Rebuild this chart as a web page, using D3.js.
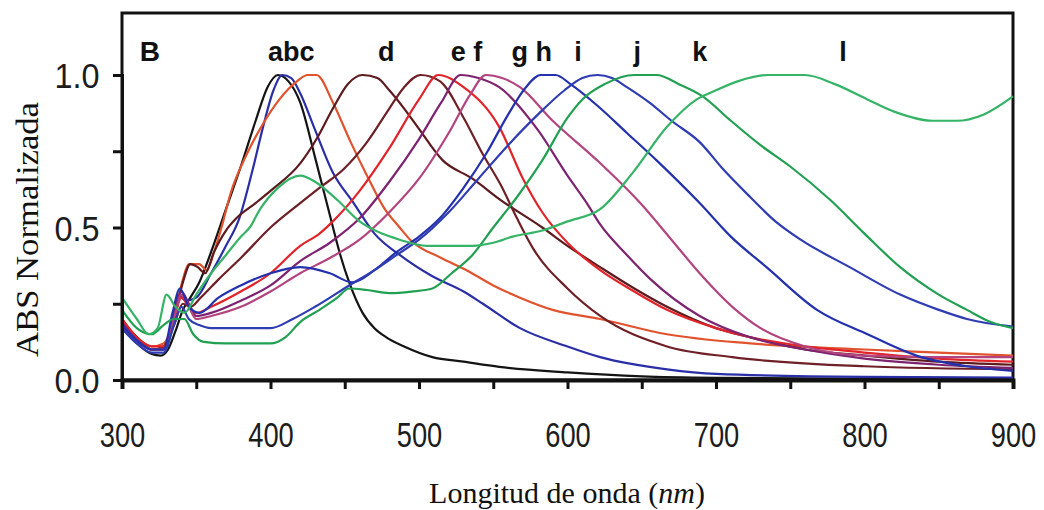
<!DOCTYPE html>
<html lang="es">
<head>
<meta charset="UTF-8">
<title>ABS Normalizada</title>
<script src="https://cdn.jsdelivr.net/npm/d3@7"></script>
<style>
  body { margin: 0; background: #fff; }
  svg { display: block; }
</style>
</head>
<body>
<script>
// spectra: [wavelength nm, normalized absorbance]
const curveA = [[300,0.17],[310,0.12],[320,0.085],[326,0.08],[331,0.1],[336,0.16],[341,0.23],[346,0.27],[352,0.32],[360,0.42],[370,0.56],[380,0.7],[390,0.85],[398,0.96],[405,1.0],[412,0.98],[420,0.91],[430,0.73],[440,0.54],[447,0.41],[453,0.32],[462,0.22],[470,0.17],[478,0.14],[490,0.11],[509,0.075],[530,0.06],[554,0.043],[600,0.025],[650,0.012],[700,0.007],[800,0.004],[900,0.003]];
const curveB = [[300,0.18],[310,0.13],[320,0.1],[327,0.1],[333,0.17],[338,0.28],[343,0.26],[350,0.27],[360,0.35],[370,0.44],[379,0.53],[388,0.69],[395,0.83],[402,0.95],[408,1.0],[414,0.99],[420,0.94],[430,0.82],[442,0.68],[456,0.58],[470,0.48],[487,0.41],[509,0.34],[530,0.29],[543,0.25],[568,0.17],[600,0.11],[622,0.075],[667,0.035],[700,0.02],[800,0.01],[900,0.008]];
const curveC = [[300,0.2],[310,0.14],[320,0.11],[328,0.12],[335,0.2],[341,0.33],[345,0.38],[352,0.38],[357,0.36],[362,0.42],[367,0.5],[373,0.61],[384,0.74],[395,0.84],[406,0.92],[418,0.98],[425,1.0],[431,1.0],[442,0.91],[454,0.78],[465,0.67],[477,0.56],[487,0.5],[494,0.46],[515,0.4],[532,0.36],[550,0.31],[568,0.27],[590,0.23],[622,0.2],[667,0.15],[723,0.12],[800,0.1],[850,0.09],[900,0.08]];
const curveD = [[300,0.19],[310,0.14],[320,0.1],[328,0.11],[335,0.2],[341,0.32],[346,0.38],[351,0.37],[356,0.35],[362,0.42],[370,0.49],[377,0.53],[390,0.58],[400,0.62],[420,0.71],[431,0.79],[442,0.89],[452,0.97],[462,1.0],[472,0.99],[480,0.95],[490,0.89],[499,0.83],[516,0.72],[536,0.66],[555,0.59],[583,0.5],[600,0.44],[622,0.37],[645,0.3],[667,0.24],[700,0.17],[723,0.14],[760,0.1],[800,0.08],[850,0.06],[900,0.05]];
const curveE = [[300,0.19],[310,0.14],[320,0.1],[328,0.1],[335,0.18],[341,0.25],[346,0.24],[353,0.27],[365,0.33],[380,0.4],[400,0.5],[420,0.58],[433,0.63],[449,0.69],[465,0.78],[480,0.89],[490,0.96],[501,1.0],[514,0.98],[530,0.86],[543,0.74],[555,0.64],[566,0.53],[577,0.43],[600,0.3],[622,0.21],[667,0.11],[711,0.075],[800,0.045],[900,0.035]];
const curveF = [[300,0.2],[310,0.14],[320,0.11],[328,0.11],[335,0.2],[340,0.27],[345,0.24],[350,0.22],[360,0.24],[380,0.29],[400,0.35],[420,0.44],[433,0.48],[442,0.52],[460,0.62],[480,0.76],[500,0.92],[513,1.0],[530,0.96],[554,0.83],[570,0.66],[583,0.55],[600,0.45],[622,0.36],[645,0.29],[667,0.23],[700,0.17],[723,0.14],[760,0.11],[800,0.09],[850,0.07],[900,0.06]];
const curveG = [[300,0.19],[310,0.13],[320,0.1],[328,0.1],[335,0.22],[340,0.29],[345,0.25],[350,0.21],[360,0.22],[380,0.26],[400,0.31],[420,0.39],[440,0.45],[460,0.53],[480,0.65],[500,0.79],[515,0.91],[528,1.0],[540,0.99],[554,0.96],[580,0.82],[600,0.67],[613,0.58],[622,0.51],[640,0.41],[656,0.33],[689,0.21],[723,0.14],[760,0.1],[800,0.07],[850,0.05],[900,0.04]];
const curveH = [[300,0.18],[310,0.13],[320,0.1],[328,0.1],[335,0.2],[340,0.28],[345,0.24],[350,0.2],[360,0.21],[380,0.24],[400,0.29],[420,0.35],[440,0.4],[460,0.46],[480,0.55],[500,0.66],[520,0.81],[535,0.94],[545,1.0],[556,0.99],[568,0.96],[590,0.85],[620,0.72],[649,0.58],[670,0.46],[689,0.35],[711,0.24],[730,0.17],[760,0.11],[800,0.08],[850,0.075],[900,0.075]];
const curveI = [[300,0.18],[310,0.13],[320,0.1],[328,0.1],[334,0.22],[339,0.3],[345,0.24],[352,0.22],[365,0.27],[380,0.31],[400,0.35],[420,0.37],[440,0.35],[455,0.32],[470,0.36],[485,0.42],[500,0.47],[514,0.53],[530,0.63],[545,0.74],[560,0.87],[572,0.96],[582,1.0],[592,1.0],[602,0.97],[620,0.9],[640,0.81],[660,0.72],[689,0.58],[710,0.47],[734,0.37],[768,0.23],[802,0.15],[835,0.08],[869,0.045],[900,0.03]];
const curveJ = [[300,0.17],[310,0.12],[320,0.09],[328,0.09],[335,0.18],[340,0.24],[345,0.2],[352,0.18],[360,0.17],[380,0.17],[400,0.17],[415,0.2],[430,0.24],[453,0.31],[470,0.36],[485,0.41],[500,0.46],[520,0.55],[540,0.66],[560,0.77],[580,0.87],[598,0.95],[610,0.99],[620,1.0],[630,0.99],[640,0.96],[655,0.91],[670,0.85],[689,0.78],[705,0.69],[723,0.6],[740,0.52],[757,0.46],[790,0.37],[824,0.28],[850,0.23],[869,0.2],[900,0.175]];
const curveK = [[300,0.23],[310,0.17],[320,0.15],[328,0.18],[335,0.2],[342,0.2],[348,0.15],[355,0.125],[370,0.12],[400,0.12],[410,0.14],[420,0.19],[433,0.23],[445,0.27],[453,0.3],[465,0.295],[480,0.285],[495,0.29],[509,0.3],[522,0.35],[536,0.41],[550,0.5],[566,0.6],[583,0.72],[600,0.86],[610,0.92],[625,0.97],[645,1.0],[660,1.0],[675,0.97],[691,0.93],[710,0.85],[730,0.77],[750,0.7],[777,0.59],[800,0.48],[824,0.37],[850,0.28],[869,0.23],[885,0.19],[900,0.17]];
const curveL = [[300,0.27],[310,0.2],[318,0.15],[324,0.17],[330,0.28],[336,0.24],[342,0.22],[350,0.28],[360,0.35],[370,0.41],[380,0.47],[386,0.5],[393,0.56],[405,0.63],[420,0.67],[430,0.65],[445,0.59],[460,0.52],[475,0.48],[487,0.46],[505,0.44],[521,0.44],[536,0.44],[550,0.45],[563,0.47],[583,0.49],[600,0.52],[622,0.56],[644,0.68],[667,0.83],[687,0.92],[700,0.95],[715,0.98],[735,1.0],[760,1.0],[780,0.97],[802,0.92],[820,0.88],[846,0.85],[862,0.85],[880,0.87],[900,0.93]];

const seriesNames = ["a", "b", "c", "d", "e", "f", "g", "h", "i", "j", "k", "l"];
const seriesData = [curveA, curveB, curveC, curveD, curveE, curveF, curveG, curveH, curveI, curveJ, curveK, curveL];
const seriesColors = ["#141414", "#2b2fa6", "#e0532e", "#5c1b1e", "#6e2026", "#e0242a", "#7d2370", "#b2457f", "#2331ad", "#2f3cb2", "#22a052", "#35b366"];

// peak labels across the top (text, wavelength under the label)
const peakLabels = ["abc", "d", "e f", "g h", "i", "j", "k", "l"];
const peakLabelWl = [414, 478, 532, 576, 607, 647, 689, 785.5];

const xTicks = d3.range(300, 901, 50);
const yTicks = [0, 0.25, 0.5, 0.75, 1.0];

const width = 1044, height = 510;
const x = d3.scaleLinear().domain([300, 900]).range([122, 1013]);
const y = d3.scaleLinear().domain([0, 1]).range([380, 75]);

const svg = d3.select("body").append("svg")
  .attr("width", width)
  .attr("height", height);

// frame
svg.append("rect")
  .attr("x", x(300)).attr("y", 13)
  .attr("width", x(900) - x(300)).attr("height", y(0) - 13)
  .attr("fill", "none").attr("stroke", "#111").attr("stroke-width", 3);

// curves
const line = d3.line()
  .x(d => x(d[0]))
  .y(d => y(d[1]))
  .curve(d3.curveMonotoneX);

svg.append("g")
  .selectAll("path")
  .data(seriesData)
  .join("path")
  .attr("d", line)
  .attr("fill", "none")
  .attr("stroke", (d, i) => seriesColors[i])
  .attr("stroke-width", 2.2)
  .attr("stroke-linejoin", "round");

// axes (labels narrowed to look like the condensed originals)
const xAxis = svg.append("g")
  .attr("transform", `translate(0,${y(0)})`)
  .call(d3.axisBottom(x).tickValues(xTicks).tickSize(9)
    .tickFormat(d => d % 100 === 0 ? d : ""));
xAxis.select(".domain").attr("stroke", "#111").attr("stroke-width", 4);
xAxis.selectAll(".tick line").attr("stroke", "#111").attr("stroke-width", 3);
xAxis.selectAll(".tick text")
  .attr("y", 67).attr("dy", 0)
  .attr("transform", "scale(0.78,1)")
  .attr("fill", "#1c1c1c")
  .style("font-family", "'Liberation Sans', Arial, sans-serif")
  .style("font-size", "35px");

const yAxis = svg.append("g")
  .attr("transform", `translate(${x(300)},0)`)
  .call(d3.axisLeft(y).tickValues(yTicks).tickSize(9)
    .tickFormat(d => (d * 10) % 5 === 0 ? d3.format(".1f")(d) : ""));
yAxis.select(".domain").attr("stroke", "#111").attr("stroke-width", 3);
yAxis.selectAll(".tick line").attr("stroke", "#111").attr("stroke-width", 3);
yAxis.selectAll(".tick text")
  .attr("x", -25).attr("dy", "0.36em")
  .attr("transform", "scale(0.9,1)")
  .attr("fill", "#1c1c1c")
  .style("font-family", "'Liberation Sans', Arial, sans-serif")
  .style("font-size", "36px");

// panel letter and peak labels
svg.append("text")
  .attr("x", x(312)).attr("y", y(1.045))
  .attr("fill", "#111")
  .style("font-family", "'Liberation Sans', Arial, sans-serif")
  .style("font-weight", "bold")
  .style("font-size", "28px")
  .text("B");

svg.append("g")
  .selectAll("text")
  .data(peakLabels)
  .join("text")
  .attr("x", (d, i) => x(peakLabelWl[i]))
  .attr("y", y(1.045))
  .attr("text-anchor", "middle")
  .attr("fill", "#111")
  .style("font-family", "'Liberation Sans', Arial, sans-serif")
  .style("font-weight", "bold")
  .style("font-size", "27px")
  .text(d => d);

// axis titles
svg.append("text")
  .attr("transform", `translate(38,${(y(0) + 75) / 2 + 2}) rotate(-90)`)
  .attr("text-anchor", "middle")
  .attr("fill", "#111")
  .style("font-family", "'Liberation Serif', 'Times New Roman', serif")
  .style("font-size", "31px")
  .attr("textLength", 255)
  .attr("lengthAdjust", "spacingAndGlyphs")
  .text("ABS Normalizada");

const xTitle = svg.append("text")
  .attr("x", 567).attr("y", 503)
  .attr("text-anchor", "middle")
  .attr("fill", "#111")
  .style("font-family", "'Liberation Serif', 'Times New Roman', serif")
  .style("font-size", "30px");
xTitle.append("tspan").text("Longitud de onda (");
xTitle.append("tspan").style("font-style", "italic").text("nm");
xTitle.append("tspan").text(")");
</script>
</body>
</html>
